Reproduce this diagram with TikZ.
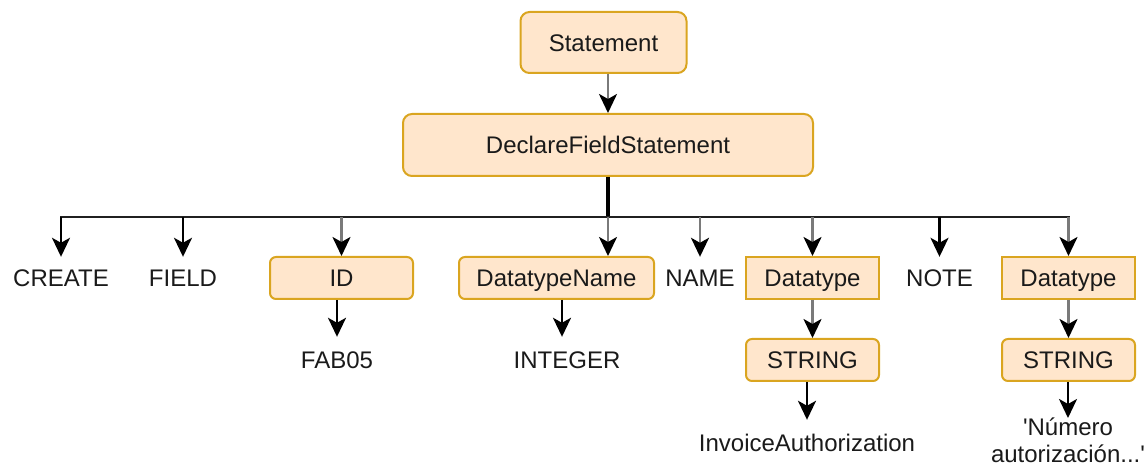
\documentclass[tikz,border=0pt]{standalone}
\usepackage{fontspec}
\setmainfont{Liberation Sans}
\usetikzlibrary{arrows.meta,calc}
\definecolor{boxfill}{HTML}{FFE6CC}
\definecolor{boxline}{HTML}{DAA520}
\definecolor{edgegray}{HTML}{7A7A7A}
\definecolor{txt}{HTML}{1A1A1A}
\definecolor{busc}{HTML}{202020}
\tikzset{
  tfont/.style={font=\fontsize{24bp}{27bp}\selectfont, text=txt},
  box/.style={tfont, draw=boxline, fill=boxfill, line width=2bp, rounded corners=6bp,
    inner sep=0pt, minimum height=42bp, text height=17.2bp, text depth=0bp},
  topbox/.style={box, rounded corners=9bp},
  sqbox/.style={box, sharp corners},
  lbl/.style={tfont, inner sep=0pt, text height=17.2bp, text depth=0bp},
  arr/.style={line width=2.5bp, -{Stealth[length=19bp,width=18bp,inset=5bp,color=black]}},
  garr/.style={arr, draw=edgegray},
  barr/.style={arr, draw=black},
}
\begin{document}
\begin{tikzpicture}[x=1bp,y=-1bp]
\useasboundingbox (0,0) rectangle (1148,467);
% top
\node[topbox, minimum width=166bp, minimum height=61bp] (stmt) at (603.5,42.5) {Statement};
\node[topbox, minimum width=410bp, minimum height=62bp] (decl) at (608,145) {DeclareFieldStatement};
% row 1
\node[lbl, minimum height=42bp] (create) at (61,278) {CREATE};
\node[lbl, minimum height=42bp] (field) at (183,278) {FIELD};
\node[box, minimum width=143bp] (id) at (341.5,278) {ID};
\node[box, minimum width=195bp] (dtn) at (556.5,278) {DatatypeName};
\node[lbl, minimum height=42bp] (name) at (700,278) {NAME};
\node[sqbox, minimum width=133bp] (dt1) at (812.5,278) {Datatype};
\node[lbl, minimum height=42bp] (note) at (939.5,278) {NOTE};
\node[sqbox, minimum width=133bp] (dt2) at (1068.5,278) {Datatype};
% row 2
\node[lbl, minimum height=46bp] (fab) at (337,360) {FAB05};
\node[lbl, minimum height=46bp] (int) at (567,360) {INTEGER};
\node[box, minimum width=133bp] (s1) at (812.5,360) {STRING};
\node[box, minimum width=133bp] (s2) at (1068.5,360) {STRING};
% row 3
\node[lbl, minimum height=46bp] (inv) at (807,443) {InvoiceAuthorization};
\node[tfont, inner sep=0pt, align=center, anchor=north] (num) at (1068,418) {\textquotesingle Número\\autorización...\textquotesingle};
% connectors
\draw[garr] (stmt.south -| decl.north) -- (decl.north);
\coordinate (bus) at (608,217);
\draw[line width=3.5bp, draw=black] (decl.south) -- (bus);
\draw[line width=2.5bp, draw=busc, line cap=rect] (bus -| create) -- (bus -| dt2);
\draw[barr] (bus -| create) -- (create.north);
\draw[barr] (bus -| field) -- (field.north);
\draw[garr] (bus -| id) -- (id.north);
\draw[garr] (bus) -- (bus |- dtn.north);
\draw[garr] (bus -| name) -- (name.north);
\draw[garr] (bus -| dt1) -- (dt1.north);
\draw[barr] (bus -| note) -- (note.north);
\draw[garr] (bus -| dt2) -- (dt2.north);
\draw[barr] (id.south -| fab.north) -- (fab.north);
\draw[barr] ([xshift=-5bp]int.north |- dtn.south) -- ([xshift=-5bp]int.north);
\draw[garr] (dt1.south) -- (s1.north);
\draw[garr] (dt2.south) -- (s2.north);
\draw[barr] (s1.south -| inv.north) -- (inv.north);
\draw[barr] (s2.south -| num.north) -- (num.north);
\end{tikzpicture}
\end{document}
